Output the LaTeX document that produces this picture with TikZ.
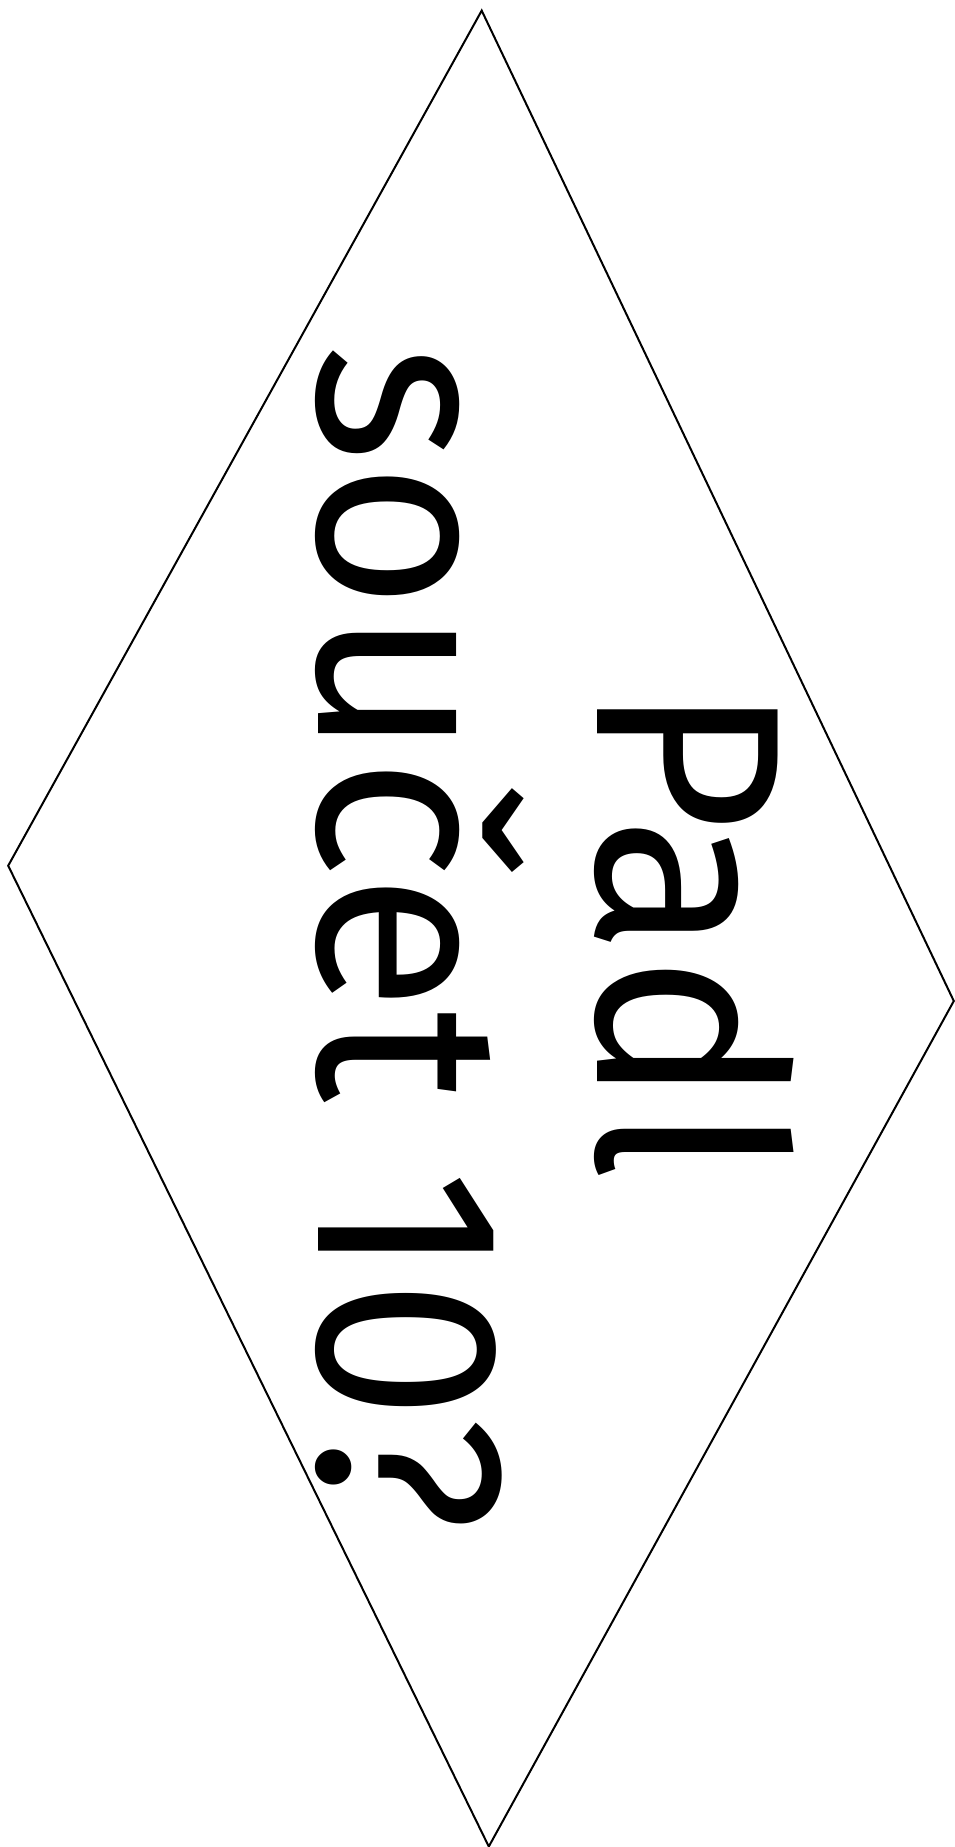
\documentclass[tikz,border=0pt]{standalone}
\usepackage{fontspec}
\setmainfont{Fira Sans}
\begin{document}
\begin{tikzpicture}[x=1pt,y=-1pt,
  shapeline/.style={draw=black,line width=2pt,line join=miter},
  label/.style={rotate=-90,anchor=base,inner sep=0pt,font=\fontsize{262}{279}\selectfont}]
\useasboundingbox (0,0) rectangle (954,1847);
\coordinate (T) at (481.7,10.6);
\coordinate (R) at (953.8,1001);
\coordinate (B) at (488.8,1846.5);
\coordinate (L) at (8.2,865.7);
\draw[shapeline] (T) -- (R) -- (B) -- (L) -- cycle;
\node[label] (l1) at (597,932) {\scalebox{0.965}[1]{Padl}};
\node[label] (l2) at (318,938) {\scalebox{0.965}[1]{součet 10?}};
\end{tikzpicture}
\end{document}
